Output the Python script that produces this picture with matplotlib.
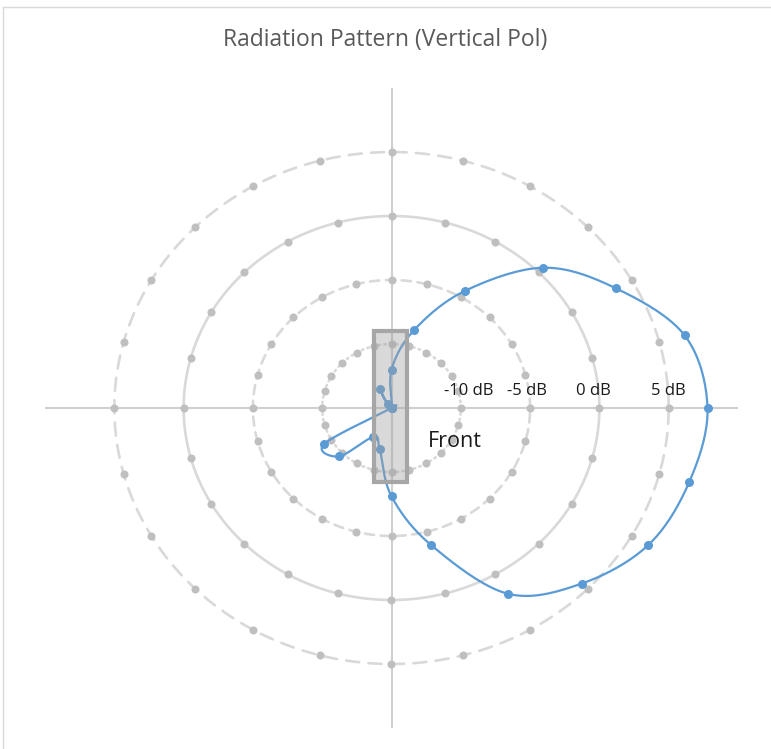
import numpy as np
import matplotlib.pyplot as plt
from matplotlib.patches import Rectangle
from matplotlib.lines import Line2D

# angles of the measured points (degrees, 0 = front / right)
angles = [0, 15, 30, 45, 60, 75, 90, 105, 120, 135, 150, 165,
          180, 195, 210, 225, 240, 255, 270, 285, 300, 315, 330, 345]
# measured gain in dB (values below -15 dB sit at the centre)
gain_db = [7.8, 6.9, 3.7, 0.5, -4.45, -8.7, -12.0, -15.0, -13.3, -14.6, -15.0, -15.0,
           -15.0, -15.0, -9.4, -9.65, -12.4, -11.7, -8.1, -3.9, 1.75, 4.4, 6.4, 7.25]
# reference circles in dB
ring_db = [-10, -5, 0, 5]
ring_labels = ['-10 dB', '-5 dB', '0 dB', '5 dB']
offset_db = 15  # centre of the plot is -15 dB

# excel-ish colours
blue = '#5B9BD5'
ring_line = '#D9D9D9'
ring_dot = '#BFBFBF'
axis_col = '#D0D0D0'

plt.rcParams['font.family'] = ['Open Sans', 'DejaVu Sans']


def smooth_closed(x, y, n=20):
    # catmull-rom style smoothing, like excel's "smoothed line"
    px, py = [], []
    k = len(x)
    for i in range(k):
        p0 = np.array([x[i - 1], y[i - 1]])
        p1 = np.array([x[i], y[i]])
        p2 = np.array([x[(i + 1) % k], y[(i + 1) % k]])
        p3 = np.array([x[(i + 2) % k], y[(i + 2) % k]])
        c1 = p1 + (p2 - p0) / 6.0
        c2 = p2 - (p3 - p1) / 6.0
        t = np.linspace(0, 1, n, endpoint=False)[:, None]
        seg = ((1 - t) ** 3) * p1 + 3 * ((1 - t) ** 2) * t * c1 + 3 * (1 - t) * t ** 2 * c2 + t ** 3 * p2
        px.extend(seg[:, 0])
        py.extend(seg[:, 1])
    px.append(px[0])
    py.append(py[0])
    return np.array(px), np.array(py)


fig = plt.figure(figsize=(7.71, 7.49), dpi=100)
ax = fig.add_axes([45 / 771, 1 - 728 / 749, 693 / 771, 640 / 749])
ax.set_xlim(-25, 25)
ax.set_ylim(-25, 25)
for s in ax.spines.values():
    s.set_visible(False)
ax.set_xticks([])
ax.set_yticks([])

# axis cross
ax.axhline(0, color=axis_col, lw=1.5, zorder=1)
ax.axvline(0, color=axis_col, lw=1.5, zorder=1)

# reference rings with a marker every 15 degrees
styles = [(0, (0.6, 1.6)), (0, (3.5, 2.5)), '-', (0, (5, 3.5))]
th = np.deg2rad(np.linspace(0, 360, 361))
tm = np.deg2rad(np.array(angles))
for db, ls in zip(ring_db, styles):
    r = db + offset_db
    ax.plot(r * np.cos(th), r * np.sin(th), color=ring_line, lw=1.9, ls=ls,
            dash_capstyle='round', zorder=2)
    ax.plot(r * np.cos(tm), r * np.sin(tm), 'o', color=ring_dot, ms=5.8,
            mec='none', zorder=3)

# antenna pattern
r_pat = np.clip(np.array(gain_db) + offset_db, 0, None)
xp = r_pat * np.cos(tm)
yp = r_pat * np.sin(tm)
sx, sy = smooth_closed(xp, yp)
ax.plot(sx, sy, color=blue, lw=1.6, zorder=4)
ax.plot(xp, yp, 'o', color=blue, ms=6.5, mec='none', zorder=5)

# antenna body (translucent grey box over the pattern)
ax.add_patch(Rectangle((-1.25, -5.8), 2.4, 11.8, facecolor='#A0A0A0', alpha=0.4,
                       edgecolor='none', zorder=6))
ax.add_patch(Rectangle((-1.25, -5.8), 2.4, 11.8, facecolor='none',
                       edgecolor='#A6A6A6', lw=3, zorder=7))

# ring labels
label_x = [5.6, 9.8, 14.6, 20.0]
for lx, txt in zip(label_x, ring_labels):
    ax.text(lx, 1.35, txt, ha='center', va='center', fontsize=12, color='#1a1a1a', zorder=8)
ax.text(4.6, -2.65, 'Front', ha='center', va='center', fontsize=15.5, color='#1a1a1a', zorder=8)

fig.text(0.5, 1 - 40 / 749, 'Radiation Pattern (Vertical Pol)', ha='center', va='center',
         fontsize=16.5, color='#595959')

# chart area border (only top and left visible in the crop)
fig.add_artist(Line2D([3 / 771, 1], [1 - 7 / 749, 1 - 7 / 749], color='#D9D9D9', lw=1))
fig.add_artist(Line2D([3 / 771, 3 / 771], [0, 1 - 7 / 749], color='#D9D9D9', lw=1))

fig.savefig('out.png', dpi=100)
